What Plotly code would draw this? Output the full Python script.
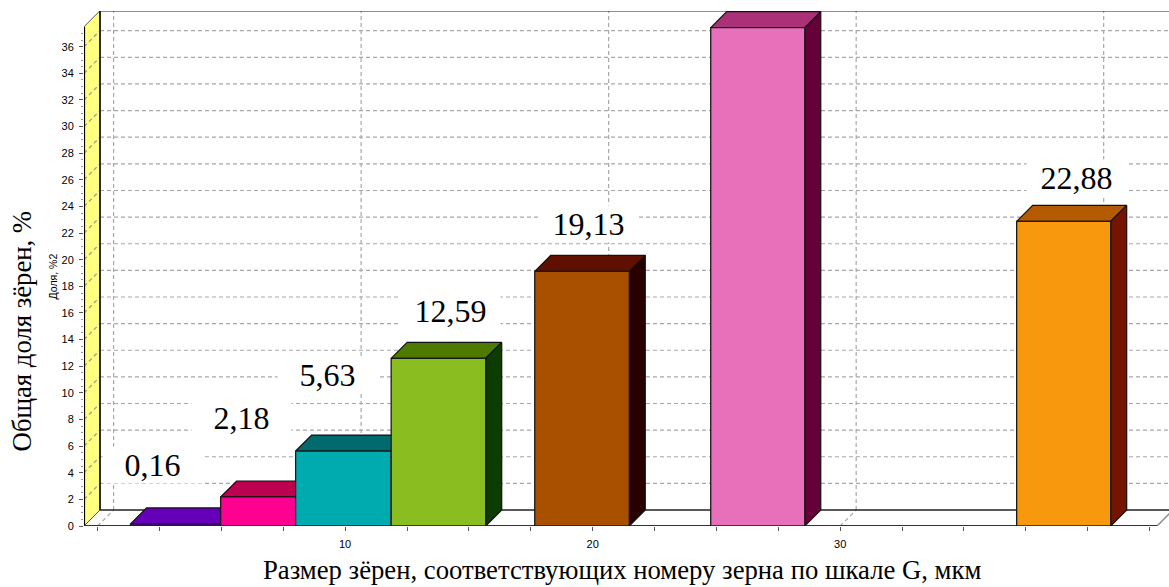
import plotly.graph_objects as go

# Grain-size bins (left and right edges, micrometres) and their share of the total, %
bin_left = [1.33, 4.97, 8.0, 11.86, 17.66, 24.77, 37.13]
bin_right = [4.97, 8.0, 11.86, 15.68, 21.48, 28.57, 40.93]
shares = [0.16, 2.18, 5.63, 12.59, 19.13, 37.43, 22.88]

# Bar colours: front, top and right-hand faces
front_colors = ["#6600B8", "#FF0090", "#00ABAF", "#8ABD20", "#A85000", "#E86FBA", "#F8980C"]
top_colors = ["#6600B8", "#BE0050", "#006A6E", "#4E7A00", "#601000", "#AA3078", "#B45A00"]
side_colors = ["#3A0070", "#800040", "#003C40", "#0D3C00", "#280000", "#660038", "#751400"]

# Hand placement of the value labels relative to each bar's top centre, in pixels
label_dx = [-23, -17, -16, 12, 6, 0, 13]
label_dy = [59, 79, 76, 47, 47, 0, 43]

y_major_ticks = list(range(0, 37, 2))
x_major_lines = [0, 10, 20, 30, 40]
x_tick_values = [v * 2.5 for v in range(0, 18)]
x_tick_labels = {10: "10", 20: "20", 30: "30"}

# Axis limits and the oblique offset of the back plane, in data units
X_MIN, X_MAX = -0.55, 43.285
Y_MAX = 38.68
WALL_TOP = 37.5
FLOOR_END = 42.8
DEPTH_X = 0.646
DEPTH_Y = 1.2

WIDTH, HEIGHT = 1169, 587
LEFT, TOP, BOTTOM = 84, 10.5, 61.3

SERIF = "Liberation Serif, Times New Roman, serif"
SANS = "Liberation Sans, Arial, sans-serif"
GRID = "#a8a8a8"
GRID_DASH = "4px,3px"

fig = go.Figure()


def line(xs, ys, color, width, dash="solid", clip=True):
    fig.add_trace(go.Scatter(x=xs, y=ys, mode="lines", hoverinfo="skip", showlegend=False,
                             cliponaxis=clip, line=dict(color=color, width=width, dash=dash)))


def face(xs, ys, fill, edge="#111111", width=1.2):
    fig.add_trace(go.Scatter(x=xs, y=ys, mode="lines", fill="toself", fillcolor=fill,
                             hoverinfo="skip", showlegend=False, cliponaxis=False,
                             line=dict(color=edge, width=width)))


# Yellow side wall
face([X_MIN, X_MIN + DEPTH_X, X_MIN + DEPTH_X, X_MIN, X_MIN],
     [0, DEPTH_Y, WALL_TOP + DEPTH_Y, WALL_TOP, 0], "#FFFF80", edge="#555555", width=1)

# Grid on the wall and on the back plane
for v in y_major_ticks[1:]:
    line([X_MIN, X_MIN + DEPTH_X], [v, v + DEPTH_Y], "#a0a090", 1.3, GRID_DASH)
    line([X_MIN + DEPTH_X, X_MAX], [v + DEPTH_Y, v + DEPTH_Y], GRID, 1.2, GRID_DASH)
for v in x_major_lines:
    line([v, v + DEPTH_X], [0, DEPTH_Y], GRID, 1.2, GRID_DASH)
    line([v + DEPTH_X, v + DEPTH_X], [DEPTH_Y, Y_MAX], GRID, 1.2, GRID_DASH)

# Outline of the back plane and the floor
line([X_MIN + DEPTH_X, X_MAX], [WALL_TOP + DEPTH_Y, WALL_TOP + DEPTH_Y], "#222222", 1.5, clip=False)
line([X_MIN + DEPTH_X, X_MIN + DEPTH_X], [DEPTH_Y, WALL_TOP + DEPTH_Y], "#000000", 1.5)
line([X_MIN + DEPTH_X, X_MAX], [DEPTH_Y, DEPTH_Y], "#222222", 1.5)
line([FLOOR_END, FLOOR_END + DEPTH_X], [0, DEPTH_Y], "#888888", 1.5)
line([X_MIN, X_MIN], [0, WALL_TOP], "#000000", 2.2, clip=False)
line([X_MIN, FLOOR_END], [0, 0], "#333333", 2, clip=False)

# Top and right-hand faces, offset into the depth of the chart
for i, value in enumerate(shares):
    left, right = bin_left[i], bin_right[i]
    face([left, right, right + DEPTH_X, left + DEPTH_X, left],
         [value, value, value + DEPTH_Y, value + DEPTH_Y, value], top_colors[i])
    face([right, right + DEPTH_X, right + DEPTH_X, right, right],
         [0, DEPTH_Y, value + DEPTH_Y, value, 0], side_colors[i])

# Front faces sit on an overlaid pair of axes so they cover neighbouring depth faces
fig.add_trace(go.Bar(
    x=[(l + r) / 2 for l, r in zip(bin_left, bin_right)],
    y=shares,
    width=[r - l for l, r in zip(bin_left, bin_right)],
    marker=dict(color=front_colors, line=dict(color="#1a1a1a", width=1.3)),
    cliponaxis=False, showlegend=False, hoverinfo="skip",
    xaxis="x2", yaxis="y2",
))

annotations = []
# Value labels; a bar whose top reaches the frame carries none
for i, value in enumerate(shares):
    if value + DEPTH_Y >= WALL_TOP:
        continue
    annotations.append(dict(
        x=(bin_left[i] + bin_right[i]) / 2, y=value, xref="x", yref="y",
        text=f"{value:.2f}".replace(".", ","), showarrow=False,
        xanchor="center", yanchor="middle", xshift=label_dx[i], yshift=label_dy[i],
        width=99, height=36, bgcolor="#ffffff", borderpad=0,
        font=dict(family=SERIF, size=32, color="#000000"),
    ))

plot_w = WIDTH - LEFT
plot_h = HEIGHT - TOP - BOTTOM


def paper_x(px):
    return (px - LEFT) / plot_w


def paper_y(py):
    return (HEIGHT - BOTTOM - py) / plot_h


annotations += [
    dict(x=paper_x(622), y=paper_y(570), xref="paper", yref="paper", showarrow=False,
         text="Размер зёрен, соответствующих номеру зерна по шкале G, мкм",
         xanchor="center", yanchor="middle",
         font=dict(family=SERIF, size=26.7, color="#000000")),
    dict(x=paper_x(22), y=paper_y(331), xref="paper", yref="paper", showarrow=False,
         text="Общая доля зёрен, %", textangle=-90,
         xanchor="center", yanchor="middle",
         font=dict(family=SERIF, size=26.7, color="#000000")),
    dict(x=paper_x(53), y=paper_y(276), xref="paper", yref="paper", showarrow=False,
         text="Доля, %2", textangle=-90,
         xanchor="center", yanchor="middle",
         font=dict(family=SANS, size=10.5, color="#000000")),
]

fig.update_layout(
    width=WIDTH, height=HEIGHT, autosize=False,
    margin=dict(l=LEFT, r=0, t=TOP, b=BOTTOM, pad=0),
    paper_bgcolor="#ffffff", plot_bgcolor="#ffffff",
    showlegend=False, annotations=annotations,
    xaxis=dict(
        range=[X_MIN, X_MAX], showgrid=False, zeroline=False, showline=False,
        tickmode="array", tickvals=x_tick_values,
        ticktext=[x_tick_labels.get(v, "") for v in x_tick_values],
        ticks="outside", ticklen=4, tickwidth=1, tickcolor="#555555",
        tickangle=0, ticklabelstandoff=4,
        tickfont=dict(family=SANS, size=11, color="#000000"),
    ),
    yaxis=dict(
        range=[0, Y_MAX], showgrid=False, zeroline=False, showline=False,
        tickmode="array", tickvals=y_major_ticks,
        ticks="outside", ticklen=4, tickwidth=1, tickcolor="#555555",
        ticklabelstandoff=3,
        tickfont=dict(family=SANS, size=11, color="#000000"),
        minor=dict(tickmode="array", tickvals=[v * 0.5 for v in range(0, 75)],
                   ticks="outside", ticklen=2, tickwidth=1, tickcolor="#999999"),
    ),
    xaxis2=dict(range=[X_MIN, X_MAX], overlaying="x", visible=False),
    yaxis2=dict(range=[0, Y_MAX], overlaying="y", visible=False),
)

fig.write_html("out.html", config={"displayModeBar": False})
